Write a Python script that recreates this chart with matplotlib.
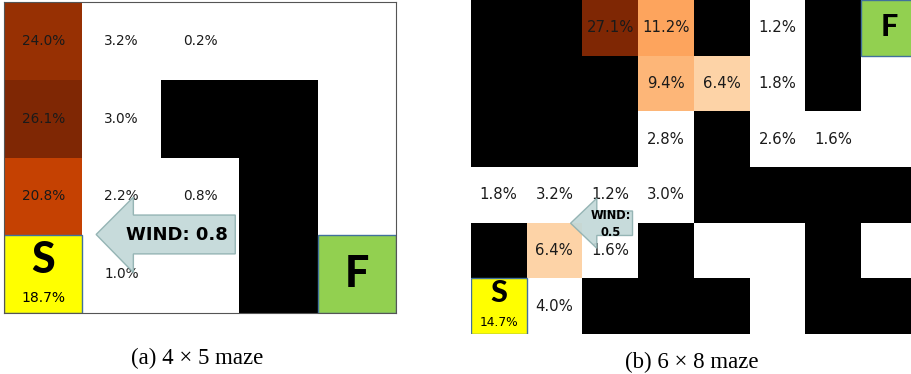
"""Wind-maze visitation heatmaps: (a) 4x5 maze and (b) 6x8 maze."""

import matplotlib

matplotlib.use("Agg")
import matplotlib.pyplot as plt
from matplotlib.patches import Polygon, Rectangle

# ---- data -----------------------------------------------------------------
# '#' wall, '.' open, 'S' start, 'F' finish
maze_a = [
    ".....",
    "..##.",
    "...#.",
    "S..#F",
]
values_a = [
    [24.0, 3.2, 0.2, None, None],
    [26.1, 3.0, None, None, None],
    [20.8, 2.2, 0.8, None, None],
    [18.7, 1.0, None, None, None],
]
wind_a = 0.8

maze_b = [
    "##..#.#F",
    "###...#.",
    "###.#...",
    "....####",
    "#..#..#.",
    "S.###.##",
]
values_b = [
    [None, None, 27.1, 11.2, None, 1.2, None, None],
    [None, None, None, 9.4, 6.4, 1.8, None, None],
    [None, None, None, 2.8, None, 2.6, 1.6, None],
    [1.8, 3.2, 1.2, 3.0, None, None, None, None],
    [None, 6.4, 1.6, None, None, None, None, None],
    [14.7, 4.0, None, None, None, None, None, None],
]
wind_b = 0.5

captions = ["(a) 4 × 5 maze", "(b) 6 × 8 maze"]

CMAP = plt.get_cmap("Oranges")
YELLOW = "#ffff00"
GREEN = "#92d050"
EDGE = "#41719c"
ARROW_FACE = "#c3d8d8"
ARROW_EDGE = "#8fb0b0"


def draw_maze(ax, maze, values, num_size, letter_size, pct_size, s_pos, f_y):
    nrows, ncols = len(maze), len(maze[0])
    vmax = max(v for row in values for v in row if v is not None)
    for r, row in enumerate(maze):
        for c, ch in enumerate(row):
            v = values[r][c]
            if ch == "#":
                ax.add_patch(Rectangle((c, r), 1, 1, color="black", lw=0, zorder=1))
            elif ch == "S":
                ax.add_patch(Rectangle((c, r), 1, 1, fc=YELLOW, ec=EDGE, lw=1, zorder=2))
                ax.text(c + 0.5, r + s_pos[0], "S", ha="center", va="center",
                        fontsize=letter_size, fontweight="black", family="Lato", zorder=3)
                ax.text(c + 0.5, r + s_pos[1], f"{v:.1f}%", ha="center", va="center",
                        fontsize=pct_size, zorder=3)
            elif ch == "F":
                ax.add_patch(Rectangle((c, r), 1, 1, fc=GREEN, ec=EDGE, lw=1, zorder=2))
                ax.text(c + 0.5, r + f_y, "F", ha="center", va="center",
                        fontsize=letter_size, fontweight="black", family="Lato", zorder=3)
            elif v is not None:
                fc = CMAP(v / vmax) if v >= 5 else "white"
                ax.add_patch(Rectangle((c, r), 1, 1, fc=fc, lw=0, zorder=1))
                ax.text(c + 0.5, r + 0.5, f"{v:.1f}%", ha="center", va="center",
                        fontsize=num_size, color="#1a1a1a", zorder=3)
    ax.set_xlim(0, ncols)
    ax.set_ylim(nrows, 0)
    ax.set_xticks([])
    ax.set_yticks([])


def draw_wind(ax, tip, head_x, head_y, shaft_y, end_x, label, label_xy, size, spacing=1.2):
    pts = [
        tip,
        (head_x, head_y[0]),
        (head_x, shaft_y[0]),
        (end_x, shaft_y[0]),
        (end_x, shaft_y[1]),
        (head_x, shaft_y[1]),
        (head_x, head_y[1]),
    ]
    ax.add_patch(Polygon(pts, closed=True, fc=ARROW_FACE, ec=ARROW_EDGE, lw=1,
                         alpha=0.92, zorder=4))
    ax.text(*label_xy, label, ha="center", va="center", fontsize=size,
            fontweight="bold", linespacing=spacing, zorder=5)


fig = plt.figure(figsize=(9.12, 3.74), dpi=100)

ax_a = fig.add_axes([4 / 912, 61 / 374, 392 / 912, 311 / 374])
draw_maze(ax_a, maze_a, values_a, num_size=9.8, letter_size=31, pct_size=10,
          s_pos=(0.32, 0.81), f_y=0.5)
draw_wind(ax_a, tip=(1.175, 2.99), head_x=1.65, head_y=(2.51, 3.48),
          shaft_y=(2.74, 3.24), end_x=2.95, label=f"WIND: {wind_a}",
          label_xy=(2.2, 3.0), size=13)
for s in ax_a.spines.values():
    s.set_color("#555555")
    s.set_linewidth(0.8)

ax_b = fig.add_axes([470.7 / 912, 40 / 374, 446.4 / 912, 334 / 374])
draw_maze(ax_b, maze_b, values_b, num_size=10.7, letter_size=22, pct_size=8.8,
          s_pos=(0.27, 0.79), f_y=0.48)
draw_wind(ax_b, tip=(1.79, 4.01), head_x=2.26, head_y=(3.56, 4.46),
          shaft_y=(3.79, 4.23), end_x=2.90, label=f"WIND:\n{wind_b}",
          label_xy=(2.51, 4.02), size=8.3, spacing=1.4)
for s in ax_b.spines.values():
    s.set_visible(False)

fig.text(197 / 912, 1 - 358 / 374, captions[0], ha="center", va="center",
         family=["Liberation Serif", "DejaVu Serif"], fontsize=16.5)
fig.text(692 / 912, 1 - 362 / 374, captions[1], ha="center", va="center",
         family=["Liberation Serif", "DejaVu Serif"], fontsize=16.5)

fig.savefig("out.png", dpi=100)
